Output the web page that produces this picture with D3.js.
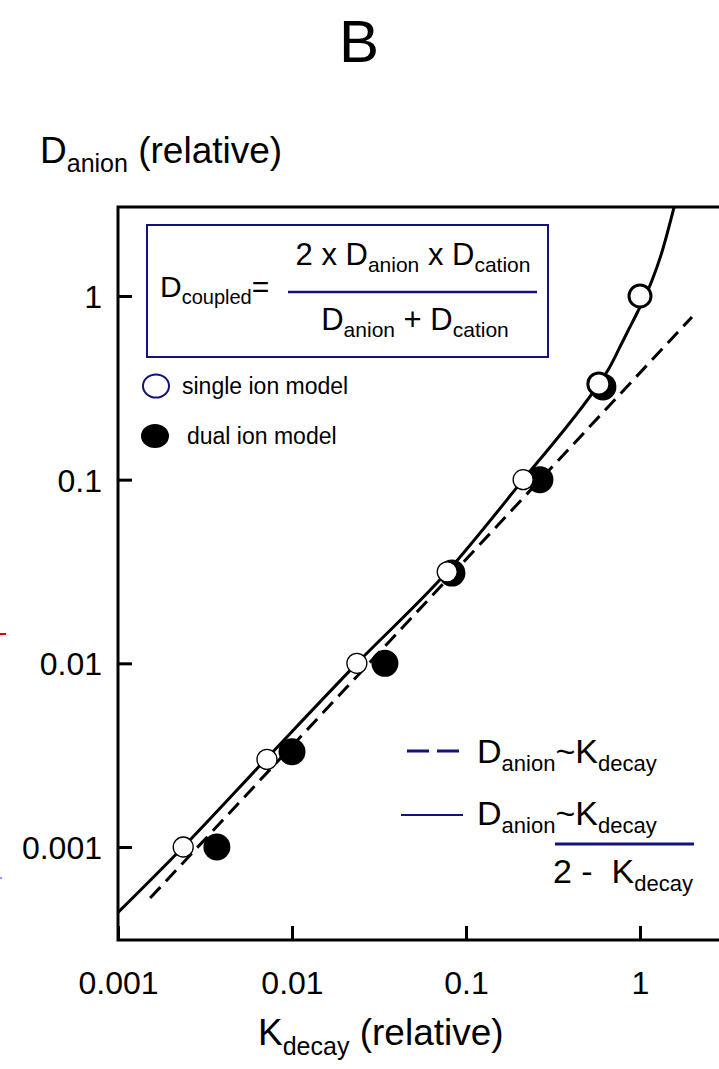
<!DOCTYPE html>
<html>
<head>
<meta charset="utf-8">
<script src="https://cdn.jsdelivr.net/npm/d3@7"></script>
<style>
  html, body { margin: 0; padding: 0; background: #fff; }
  svg { display: block; }
  text { font-family: "Liberation Sans", Arial, Helvetica, sans-serif; fill: #000; }
</style>
</head>
<body>
<svg id="chart" width="719" height="1069"></svg>
<script>
// ---- data -------------------------------------------------------------
const kTicks = [0.001, 0.01, 0.1, 1];
const kTickLabels = ["0.001", "0.01", "0.1", "1"];
const dTicks = [0.001, 0.01, 0.1, 1];
const dTickLabels = ["0.001", "0.01", "0.1", "1"];

// single ion model (open circles)
const singleK = [0.00237, 0.00718, 0.0236, 0.078, 0.213, 0.58, 1.0];
const singleD = [0.001, 0.003, 0.01, 0.0315, 0.1, 0.332, 1.0];

// dual ion model (filled circles)
const dualK = [0.0037, 0.0100, 0.0342, 0.083, 0.266, 0.612];
const dualD = [0.001, 0.0033, 0.01, 0.031, 0.1, 0.32];

// D ~ K / (2 - K)  (solid curve, traced)
const solidK = [0.001, 0.00237, 0.00718, 0.0236, 0.078, 0.213, 0.58, 0.655, 0.767, 0.841, 0.962, 1.17, 1.32, 1.57];
const solidD = [0.00044, 0.001, 0.00305, 0.01, 0.0315, 0.1, 0.332, 0.395, 0.528, 0.629, 0.808, 1.21, 1.67, 3.05];

// D ~ K  (dashed line)
const dashK = [0.00153, 1.99];
const dashD = [0.000527, 0.769];

// ---- layout -----------------------------------------------------------
const W = 719, H = 1069;
const plotLeft = 118, plotRight = 719, plotTop = 207, plotBottom = 940;
const NAVY = "#12127c";

const svg = d3.select("#chart");
svg.append("rect").attr("width", W).attr("height", H).attr("fill", "#fff");

const x = d3.scaleLog().domain([0.001, 1]).range([plotLeft, 640]);
const y = d3.scaleLog().domain([0.001, 1]).range([847, 296]);

// rich text helper: parts = [[string, isSubscript], ...]
function rich(g, px, py, parts, base, sub, off, anchor) {
  const t = g.append("text")
    .attr("x", px).attr("y", py)
    .attr("text-anchor", anchor || "start")
    .style("white-space", "pre");
  let cur = 0;
  parts.forEach(([s, isSub]) => {
    const want = isSub ? off : 0;
    t.append("tspan")
      .attr("dy", want - cur)
      .attr("font-size", isSub ? sub : base)
      .text(s);
    cur = want;
  });
  return t;
}

// ---- clip for plotted curves --------------------------------------------
svg.append("defs").append("clipPath").attr("id", "plotClip")
  .append("rect")
  .attr("x", plotLeft).attr("y", plotTop)
  .attr("width", plotRight - plotLeft).attr("height", plotBottom - plotTop);

const plot = svg.append("g").attr("clip-path", "url(#plotClip)");

// ---- curves ----------------------------------------------------------
const dashPts = dashK.map((k, i) => [k, dashD[i]]);
plot.append("path")
  .datum(dashPts)
  .attr("d", d3.line().x(d => x(d[0])).y(d => y(d[1])))
  .attr("fill", "none")
  .attr("stroke", "#000")
  .attr("stroke-width", 3)
  .attr("stroke-dasharray", "15,8");

const solidPts = solidK.map((k, i) => [k, solidD[i]]);
plot.append("path")
  .datum(solidPts)
  .attr("d", d3.line().x(d => x(d[0])).y(d => y(d[1])).curve(d3.curveMonotoneX))
  .attr("fill", "none")
  .attr("stroke", "#000")
  .attr("stroke-width", 3)
  .attr("stroke-linejoin", "round");

// ---- markers ---------------------------------------------------------
const dualPts = dualK.map((k, i) => ({ k, d: dualD[i] }));
plot.selectAll("circle.dual").data(dualPts).join("circle")
  .attr("class", "dual")
  .attr("cx", p => x(p.k)).attr("cy", p => y(p.d))
  .attr("r", 13.5)
  .attr("fill", "#000");

const singlePts = singleK.map((k, i) => ({ k, d: singleD[i] }));
plot.selectAll("circle.single").data(singlePts).join("circle")
  .attr("class", "single")
  .attr("cx", p => x(p.k)).attr("cy", p => y(p.d))
  .attr("r", p => p.k >= 0.5 ? 11 : 10)
  .attr("fill", "#fff")
  .attr("stroke", "#000")
  .attr("stroke-width", p => p.k >= 0.5 ? 3 : 1.3);

// ---- axes / frame ------------------------------------------------------
const yAxis = d3.axisLeft(y).tickValues(dTicks)
  .tickFormat((d, i) => dTickLabels[i])
  .tickSizeInner(-14).tickSizeOuter(0).tickPadding(16);
const gy = svg.append("g").attr("transform", `translate(${plotLeft},0)`).call(yAxis);
gy.select(".domain").remove();
gy.selectAll(".tick line").attr("stroke", "#000").attr("stroke-width", 3);
gy.selectAll(".tick text")
  .attr("font-size", 32)
  .attr("font-family", "Liberation Sans, Arial, sans-serif")
  .attr("fill", "#000")
  .attr("dy", "0.36em");

const xAxis = d3.axisBottom(x).tickValues(kTicks)
  .tickFormat((d, i) => kTickLabels[i])
  .tickSizeInner(-14).tickSizeOuter(0).tickPadding(0);
const gx = svg.append("g").attr("transform", `translate(0,${plotBottom})`).call(xAxis);
gx.select(".domain").remove();
gx.selectAll(".tick line").attr("stroke", "#000").attr("stroke-width", 3);
gx.selectAll(".tick text")
  .attr("font-size", 32)
  .attr("font-family", "Liberation Sans, Arial, sans-serif")
  .attr("fill", "#000")
  .attr("y", 54).attr("dy", 0);

// frame: left, bottom, top
const frame = svg.append("g").attr("stroke", "#000").attr("stroke-width", 3).attr("fill", "none");
frame.append("path")
  .attr("d", `M${plotRight},${plotTop}H${plotLeft}V${plotBottom}H${plotRight}`)
  .attr("stroke-linejoin", "miter");

// ---- titles ----------------------------------------------------------
svg.append("text")
  .attr("x", 359).attr("y", 62)
  .attr("text-anchor", "middle")
  .attr("font-size", 60)
  .text("B");

rich(svg, 40, 163, [["D", 0], ["anion", 1], [" (relative)", 0]], 37, 25, 9);
rich(svg, 258, 1045, [["K", 0], ["decay", 1], [" (relative)", 0]], 37, 25, 10);

// ---- formula box -------------------------------------------------------
const box = svg.append("g");
box.append("rect")
  .attr("x", 147).attr("y", 225).attr("width", 401).attr("height", 132)
  .attr("fill", "#fff").attr("stroke", NAVY).attr("stroke-width", 2);
rich(box, 160, 297, [["D", 0], ["coupled", 1], ["=", 0]], 30, 20, 7);
rich(box, 413, 265, [["2 x D", 0], ["anion", 1], [" x D", 0], ["cation", 1]], 31, 21, 7, "middle");
box.append("line")
  .attr("x1", 288).attr("x2", 537).attr("y1", 292).attr("y2", 292)
  .attr("stroke", NAVY).attr("stroke-width", 2.5);
rich(box, 415, 330, [["D", 0], ["anion", 1], [" + D", 0], ["cation", 1]], 31, 21, 7, "middle");

// ---- marker legend -----------------------------------------------------
svg.append("ellipse")
  .attr("cx", 156).attr("cy", 386).attr("rx", 13).attr("ry", 11.5)
  .attr("fill", "#fff").attr("stroke", NAVY).attr("stroke-width", 2);
svg.append("text").attr("x", 182).attr("y", 394).attr("font-size", 23).text("single ion model");
svg.append("ellipse")
  .attr("cx", 155).attr("cy", 436).attr("rx", 14).attr("ry", 12)
  .attr("fill", "#000");
svg.append("text").attr("x", 187).attr("y", 444).attr("font-size", 23).text("dual ion model");

// ---- line legend -------------------------------------------------------
svg.append("line")
  .attr("x1", 407).attr("x2", 459).attr("y1", 751).attr("y2", 751)
  .attr("stroke", NAVY).attr("stroke-width", 3).attr("stroke-dasharray", "22,8");
rich(svg, 477, 763, [["D", 0], ["anion", 1], ["~K", 0], ["decay", 1]], 34, 22, 8);

svg.append("line")
  .attr("x1", 401).attr("x2", 463).attr("y1", 815).attr("y2", 815)
  .attr("stroke", NAVY).attr("stroke-width", 2);
rich(svg, 477, 825, [["D", 0], ["anion", 1], ["~K", 0], ["decay", 1]], 34, 22, 8);
svg.append("line")
  .attr("x1", 555).attr("x2", 694).attr("y1", 844).attr("y2", 844)
  .attr("stroke", NAVY).attr("stroke-width", 3);
rich(svg, 553, 883, [["2 -  K", 0], ["decay", 1]], 34, 22, 8);

// small edge marks at the left margin
svg.append("line").attr("x1", 0).attr("x2", 6).attr("y1", 634).attr("y2", 634)
  .attr("stroke", "#e00000").attr("stroke-width", 2);
svg.append("line").attr("x1", 0).attr("x2", 2).attr("y1", 878).attr("y2", 878)
  .attr("stroke", "#2020ff").attr("stroke-width", 1);
</script>
</body>
</html>
